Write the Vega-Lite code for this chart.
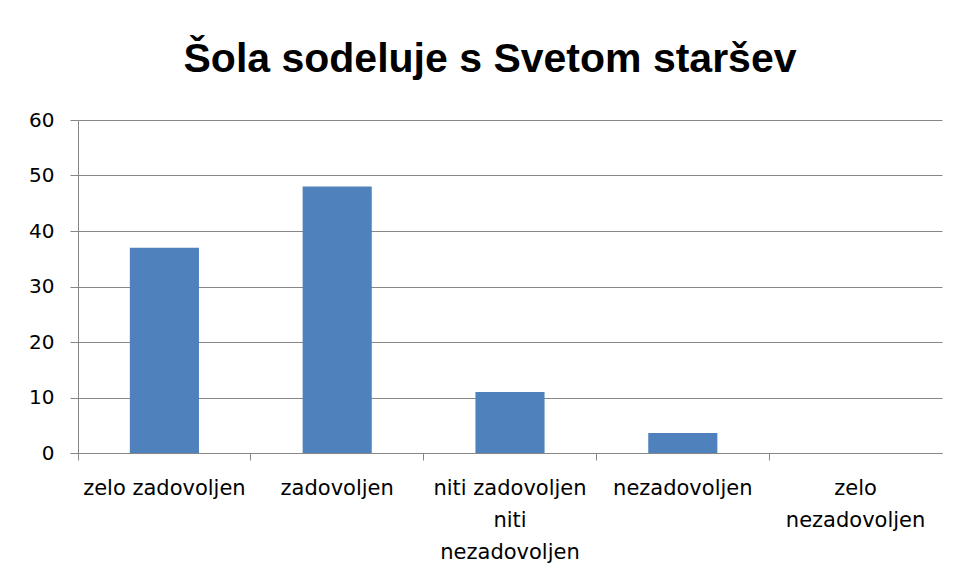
{
  "$schema": "https://vega.github.io/schema/vega-lite/v6.json",
  "autosize": "none",
  "width": 864,
  "height": 333,
  "padding": {"left": 78, "top": 120, "right": 13, "bottom": 129},
  "background": "white",
  "title": {
    "text": "Šola sodeluje s Svetom staršev",
    "font": "Liberation Sans",
    "fontSize": 41,
    "fontWeight": "bold",
    "color": "#000000",
    "anchor": "middle",
    "baseline": "alphabetic",
    "offset": -3,
    "dx": -20
  },
  "data": {
    "values": [
      {"odgovor": "zelo zadovoljen", "vrednost": 37},
      {"odgovor": "zadovoljen", "vrednost": 48},
      {"odgovor": "niti zadovoljen niti nezadovoljen", "vrednost": 11},
      {"odgovor": "nezadovoljen", "vrednost": 3.6},
      {"odgovor": "zelo nezadovoljen", "vrednost": 0}
    ]
  },
  "mark": {"type": "bar", "color": "#4F81BD", "width": {"band": 0.4}},
  "encoding": {
    "x": {
      "field": "odgovor",
      "type": "nominal",
      "sort": null,
      "title": null,
      "scale": {"paddingInner": 0, "paddingOuter": 0},
      "axis": {
        "bandPosition": 0,
        "labelAngle": 0,
        "labelFont": "DejaVu Sans",
        "labelFontSize": 21,
        "labelColor": "#000000",
        "labelLineHeight": 32,
        "labelPadding": 17,
        "labelAlign": "center",
        "labelBaseline": "top",
        "labelLimit": 0,
        "tickSize": 7,
        "tickColor": "#868686",
        "domainColor": "#868686",
        "grid": false,
        "labelExpr": "datum.value == 'niti zadovoljen niti nezadovoljen' ? ['niti zadovoljen', 'niti', 'nezadovoljen'] : datum.value == 'zelo nezadovoljen' ? ['zelo', 'nezadovoljen'] : datum.value"
      }
    },
    "y": {
      "field": "vrednost",
      "type": "quantitative",
      "title": null,
      "scale": {"domain": [0, 60], "nice": false},
      "axis": {
        "values": [0, 10, 20, 30, 40, 50, 60],
        "labelFont": "DejaVu Sans",
        "labelFontSize": 20,
        "labelColor": "#000000",
        "labelPadding": 16,
        "tickSize": 8,
        "tickColor": "#868686",
        "domainColor": "#868686",
        "gridColor": "#868686",
        "grid": true
      }
    }
  },
  "config": {
    "view": {"stroke": null},
    "axis": {"domainWidth": 1, "tickWidth": 1, "gridWidth": 1}
  }
}
